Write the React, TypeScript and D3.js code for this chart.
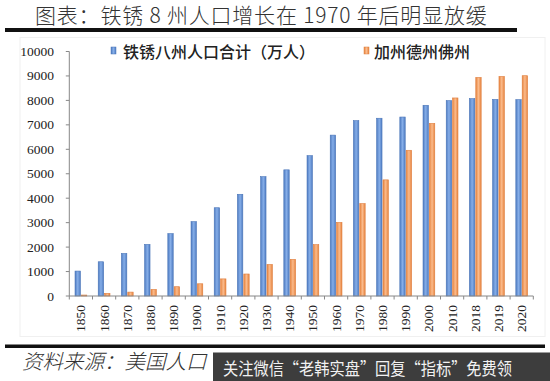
import React from "react";
import * as d3 from "d3";

const categories = ["1850","1860","1870","1880","1890","1900","1910","1920","1930","1940","1950","1960","1970","1980","1990","2000","2010","2018","2019","2020"];
const rustBelt = [1020,1400,1740,2110,2550,3040,3610,4160,4880,5160,5740,6580,7170,7270,7320,7800,7990,8070,8040,8030];
const sunBelt = [40,110,160,270,380,500,700,900,1290,1500,2100,3010,3780,4750,5960,7060,8100,8940,8980,9010];
const seriesNames = ["铁锈八州人口合计（万人）", "加州德州佛州"];
const yTicks = [0,1000,2000,3000,4000,5000,6000,7000,8000,9000,10000];

const W = 550, H = 381;
const serif = "'Liberation Serif', 'DejaVu Serif', serif";
const cjk = "'Noto Sans CJK SC', 'Noto Sans', sans-serif";

export default function App() {
  const x = d3.scaleBand<string>().domain(categories).range([69.3, 533.3]).paddingInner(0).paddingOuter(0);
  const inner = d3.scaleBand<string>().domain(["a","b"]).range([0, x.bandwidth()]).paddingInner(0.15).paddingOuter(0.9);
  const y = d3.scaleLinear().domain([0, 10000]).range([296, 51.5]);
  const series = [
    { key: "a", values: rustBelt, fill: "url(#gBlue)", stroke: "#4a75b8" },
    { key: "b", values: sunBelt, fill: "url(#gOrange)", stroke: "#e07f3f" },
  ];
  const x0 = x.range()[0], x1 = x.range()[1];
  const y0 = y(0);
  return (
    <svg width={W} height={H} style={{ position: "absolute", left: 0, top: 0, background: "#fff" }}>
      <defs>
        <linearGradient id="gBlue" x1="0" x2="1" y1="0" y2="0">
          <stop offset="0" stopColor="#4f7cc2" />
          <stop offset="0.5" stopColor="#86aee8" />
          <stop offset="1" stopColor="#4f7cc2" />
        </linearGradient>
        <linearGradient id="gOrange" x1="0" x2="1" y1="0" y2="0">
          <stop offset="0" stopColor="#e6843f" />
          <stop offset="0.5" stopColor="#fbbb8c" />
          <stop offset="1" stopColor="#e6843f" />
        </linearGradient>
      </defs>
      <rect x={0} y={0} width={W} height={H} fill="#fff" />
      {/* title */}
      <text x={35} y={22.5} fontFamily={cjk} fontWeight={300} fontSize={21} letterSpacing={0.8} fill="#333">
        图表：铁锈 8 州人口增长在 1970 年后明显放缓
      </text>
      <rect x={5} y={28} width={512} height={4} fill="#111" />
      {/* chart frame */}
      <rect x={20} y={37.5} width={525} height={299} fill="none" stroke="#f0f0f0" strokeWidth={1} />
      {/* legend */}
      <rect x={111} y={47} width={5} height={7} fill="url(#gBlue)" stroke="#4a75b8" strokeWidth={0.5} />
      <text x={123} y={51} dominantBaseline="central" fontFamily={cjk} fontWeight={500} fontSize={16} fill="#222">{seriesNames[0]}</text>
      <rect x={364} y={47} width={5} height={7} fill="url(#gOrange)" stroke="#e07f3f" strokeWidth={0.5} />
      <text x={374} y={51} dominantBaseline="central" fontFamily={cjk} fontWeight={500} fontSize={16} fill="#222">{seriesNames[1]}</text>
      {/* bars */}
      {series.map((s) =>
        categories.map((c, i) => {
          const bx = (x(c) as number) + (inner(s.key) as number);
          const top = y(s.values[i]);
          return (
            <rect key={s.key + c} x={bx} y={top} width={inner.bandwidth()} height={Math.max(0, y0 - top)}
              fill={s.fill} stroke={s.stroke} strokeWidth={0.6} />
          );
        })
      )}
      {/* y axis */}
      <line x1={x0} x2={x0} y1={y(10000)} y2={y0} stroke="#888" strokeWidth={1} />
      {yTicks.map((t) => (
        <g key={t}>
          <line x1={x0 - 3.5} x2={x0} y1={y(t)} y2={y(t)} stroke="#888" />
          <text x={54} y={y(t)} textAnchor="end" dominantBaseline="central" style={{ fontFamily: serif }} fontSize={13.5} fill="#222">{t}</text>
        </g>
      ))}
      {/* x axis */}
      <line x1={x0} x2={x1} y1={y0} y2={y0} stroke="#888" strokeWidth={1} />
      {categories.map((c) => (
        <line key={"t" + c} x1={x(c) as number} x2={x(c) as number} y1={y0} y2={y0 + 3.5} stroke="#888" />
      ))}
      <line x1={x1} x2={x1} y1={y0} y2={y0 + 3.5} stroke="#888" />
      {categories.map((c) => {
        const cx = (x(c) as number) + x.bandwidth() / 2;
        return (
          <text key={"l" + c} transform={`translate(${cx},305) rotate(-90)`} textAnchor="end" dominantBaseline="central"
            style={{ fontFamily: serif }} fontSize={13.5} fill="#222">{c}</text>
        );
      })}
      {/* bottom rule and source */}
      <rect x={5} y={344.5} width={540} height={3.5} fill="#111" />
      <text x={22} y={369} fontFamily={cjk} fontWeight={300} fontStyle="italic" fontSize={20.5} fill="#333">
        资料来源：美国人口
      </text>
      {/* overlay banner */}
      <rect x={213} y={352.5} width={337} height={28.5} fill="#3d3d3d" />
      <text x={223} y={367} dominantBaseline="central" fontFamily={cjk} fontSize={17} fill="#f2f2f2" textLength={289} lengthAdjust="spacingAndGlyphs">
        关注微信“老韩实盘”回复“指标”免费领
      </text>
    </svg>
  );
}
